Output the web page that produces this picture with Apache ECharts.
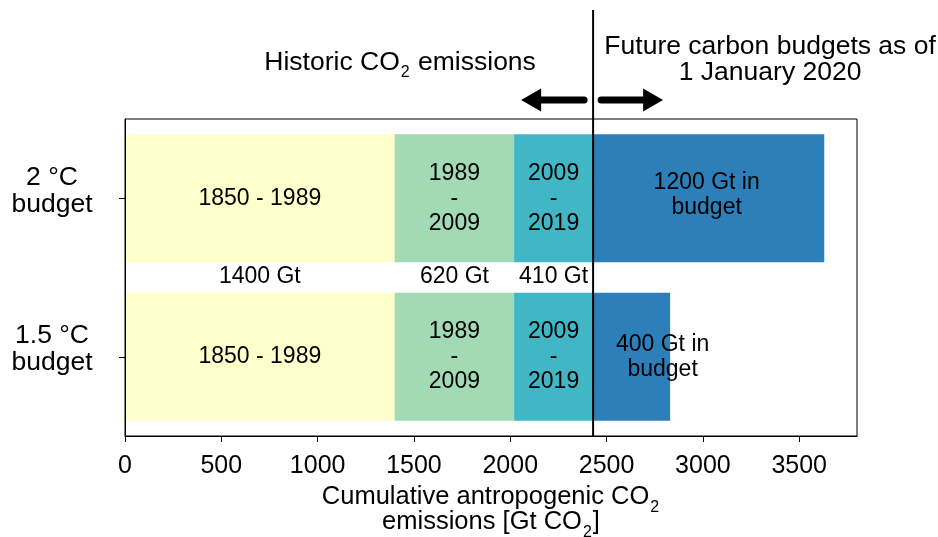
<!DOCTYPE html>
<html>
<head>
<meta charset="utf-8">
<script src="https://cdn.jsdelivr.net/npm/echarts@6/dist/echarts.min.js"></script>
<style>
  html, body { margin: 0; padding: 0; background: #fff; }
  #chart { width: 938px; height: 537px; }
</style>
</head>
<body>
<div id="chart"></div>
<script>
// Carbon budget categories (top to bottom)
const categories = ['2 °C\nbudget', '1.5 °C\nbudget'];

// Historic cumulative CO2 emissions per period, Gt CO2
const emissions1850to1989 = [1400, 1400];
const emissions1989to2009 = [620, 620];
const emissions2009to2019 = [410, 410];
// Remaining budget as of 1 January 2020, Gt CO2
const remainingBudget = [1200, 400];

const periodNames = ['1850 - 1989', '1989\n-\n2009', '2009\n-\n2019'];
const amountNames = ['1400 Gt', '620 Gt', '410 Gt'];
const budgetNames = ['1200 Gt in\nbudget', '400 Gt in\nbudget'];

const xTicks = [0, 500, 1000, 1500, 2000, 2500, 3000, 3500];

const colors = ['#ffffcc', '#a1dab4', '#41b6c4', '#2c7fb8'];
const FONT = '"Liberation Sans", Arial, sans-serif';

const historic = [emissions1850to1989, emissions1989to2009, emissions2009to2019];
const historicTotal = historic.reduce((s, arr) => s + arr[0], 0);

// Centres of each historic period along the x axis (for the amount labels)
const amountRows = [];
let start = 0;
historic.forEach((arr, i) => {
  amountRows.push([start + arr[0] / 2, 0, amountNames[i]]);
  start += arr[0];
});

const barWidth = 128;
const labelBase = { show: true, position: 'inside', color: '#000', fontFamily: FONT, fontSize: 23, lineHeight: 25 };

const series = historic.map((arr, i) => ({
  type: 'bar',
  stack: 'total',
  barWidth: barWidth,
  itemStyle: { color: colors[i] },
  label: Object.assign({}, labelBase, { formatter: periodNames[i] }),
  emphasis: { disabled: true },
  data: arr
}));

series.push({
  type: 'bar',
  stack: 'total',
  barWidth: barWidth,
  itemStyle: { color: colors[3] },
  emphasis: { disabled: true },
  data: remainingBudget.map((v, i) => ({
    value: v,
    label: Object.assign({}, labelBase, {
      formatter: budgetNames[i],
      offset: i === 1 ? [31, 0] : [-2, -3]
    })
  }))
});

// Amount labels placed in the gap between the two bars
series.push({
  type: 'custom',
  encode: { x: 0, y: 1 },
  silent: true,
  z: 5,
  renderItem: function (params, api) {
    const p = api.coord([api.value(0), 0]);
    const band = api.size([0, 1])[1];
    return {
      type: 'text',
      style: {
        text: amountRows[params.dataIndex][2],
        x: p[0], y: p[1] + band / 2 - 1,
        align: 'center', verticalAlign: 'middle',
        fill: '#000', font: '23px ' + FONT
      }
    };
  },
  data: amountRows
});

// Subscript styling shared by the headings and the axis title
function subRich(size, lh) {
  const base = lh / 2 + size * 0.33;
  return {
    n: { fontSize: size, fontFamily: FONT, color: '#000', fill: '#000', lineHeight: lh, verticalAlign: 'top' },
    s: { fontSize: 16, fontFamily: FONT, color: '#000', fill: '#000', lineHeight: 12,
         padding: [Math.round(base + 1.5 - 6), 1, 0, 1], verticalAlign: 'top' }
  };
}

// Divider between historic emissions and future budgets, with arrows and headings
series.push({
  type: 'custom',
  encode: { x: 0, y: 1 },
  silent: true,
  clip: false,
  z: 10,
  renderItem: function (params, api) {
    const x = api.coord([api.value(0), 0])[0];
    const bottom = params.coordSys.y + params.coordSys.height;
    const ay = 100;
    const arrow = (x0, x1) => {
      const dir = x1 > x0 ? 1 : -1;
      const hx = x1 - dir * 20;
      return [
        { type: 'line', shape: { x1: x0, y1: ay, x2: hx, y2: ay },
          style: { stroke: '#000', lineWidth: 7, lineCap: 'round' } },
        { type: 'polygon', shape: { points: [[x1, ay], [hx, ay - 11.5], [hx, ay + 11.5]] },
          style: { fill: '#000' } }
      ];
    };
    return {
      type: 'group',
      children: [
        { type: 'line', shape: { x1: x, y1: 10, x2: x, y2: bottom },
          style: { stroke: '#000', lineWidth: 2 } },
        ...arrow(x - 9, x - 72),
        ...arrow(x + 8, x + 70),
        { type: 'text',
          style: { text: '{n|Historic CO}{s|2}{n| emissions}', rich: subRich(26.5, 21),
                   x: x - 193, y: 60, align: 'center', verticalAlign: 'middle' } },
        { type: 'text',
          style: { text: 'Future carbon budgets as of\n1 January 2020',
                   x: x + 177, y: 60, align: 'center', verticalAlign: 'middle',
                   fill: '#000', font: '26.5px ' + FONT, lineHeight: 26 } }
      ]
    };
  },
  data: [[historicTotal, 0]]
});

const chart = echarts.init(document.getElementById('chart'), null, { renderer: 'canvas' });
chart.setOption({
  animation: false,
  backgroundColor: '#fff',
  grid: {
    left: 125, right: 81, top: 119, bottom: 101,
    outerBoundsMode: 'none', containLabel: false,
    show: true, borderColor: '#000', borderWidth: 1, backgroundColor: 'transparent'
  },
  xAxis: {
    type: 'value',
    min: 0, max: 3800, interval: 500,
    name: '{n|Cumulative antropogenic CO}{s|2}\n{n|emissions [Gt CO}{s|2}{n|]}',
    nameLocation: 'middle',
    nameGap: 47,
    nameTextStyle: { color: '#000', rich: subRich(25.5, 25) },
    axisLine: { show: true, lineStyle: { color: '#000', width: 1 } },
    axisTick: { show: true, length: 6, lineStyle: { color: '#000' }, customValues: xTicks },
    axisLabel: {
      color: '#000', fontFamily: FONT, fontSize: 25, margin: 18, customValues: xTicks,
      formatter: v => String(v)
    },
    splitLine: { show: false }
  },
  yAxis: {
    type: 'category',
    inverse: true,
    z: 3,
    data: categories,
    axisLine: { show: true, lineStyle: { color: '#000', width: 1 } },
    axisTick: { show: true, alignWithLabel: true, length: 6, lineStyle: { color: '#000' } },
    axisLabel: {
      align: 'center', margin: 73,
      // two centred lines sitting slightly above the tick
      formatter: v => v.split('\n').map(s => '{t|' + s + '}').join('\n') + '\n{g| }',
      rich: {
        t: { color: '#000', fontFamily: FONT, fontSize: 26.5, lineHeight: 27 },
        g: { fontSize: 1, lineHeight: 15 }
      }
    },
    splitLine: { show: false }
  },
  series: series
});
</script>
</body>
</html>
